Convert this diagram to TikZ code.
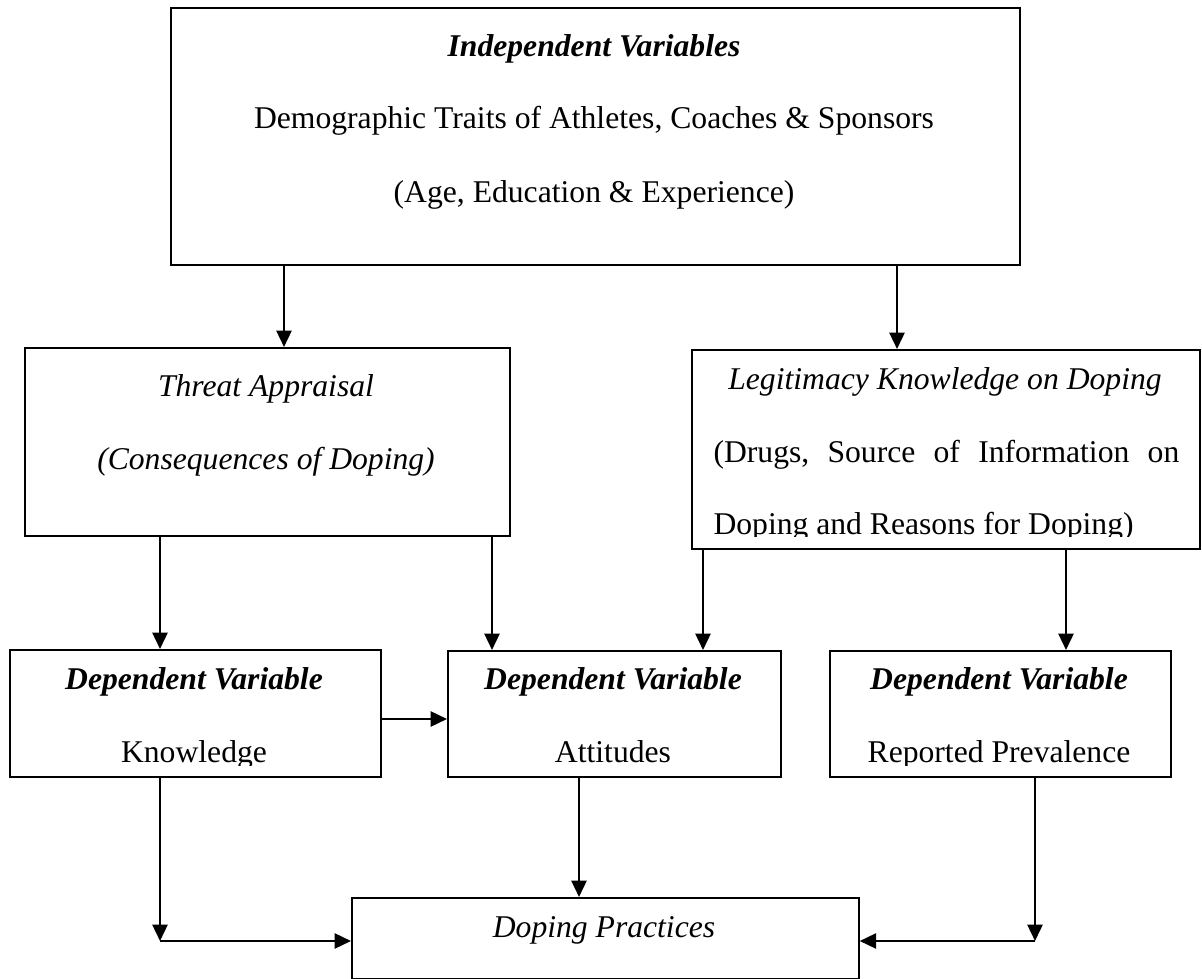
\documentclass[tikz,border=0pt]{standalone}
\usepackage{fontspec}
\setmainfont{Liberation Serif}
\usetikzlibrary{arrows.meta}

\tikzset{
  box/.style={draw, line width=0.7pt, inner sep=0pt, anchor=north west},
  txt/.style={inner sep=0pt, anchor=base},
  bi/.style={txt, font=\bfseries\itshape},
  it/.style={txt, font=\itshape},
  arr/.style={line width=0.9pt, -{Triangle[length=6.5pt,width=6pt]}}
}

\begin{document}
\fontsize{12.5}{14}\selectfont
\begin{tikzpicture}[x=0.395pt,y=-0.395pt]
    \useasboundingbox (0,0) rectangle (1202,979);
    % boxes
    \node[box, minimum width=849*0.395pt, minimum height=257*0.395pt] (indep) at (170,7) {};
    \node[box, minimum width=485*0.395pt, minimum height=188*0.395pt] (threat) at (24,347) {};
    \node[box, minimum width=508*0.395pt, minimum height=199*0.395pt] (legit) at (691,349) {};
    \node[box, minimum width=371*0.395pt, minimum height=127*0.395pt] (know) at (9,649) {};
    \node[box, minimum width=333*0.395pt, minimum height=126*0.395pt] (att) at (447,650) {};
    \node[box, minimum width=341*0.395pt, minimum height=126*0.395pt] (prev) at (829,650) {};
    \node[box, minimum width=507*0.395pt, minimum height=81*0.395pt] (practice) at (351,897) {};

    % texts
    \node[bi] at (594,57) {Independent Variables};
    \node[txt] at (594,129) {Demographic Traits of Athletes, Coaches \& Sponsors};
    \node[txt] at (594,203) {(Age, Education \& Experience)};
    \node[it] at (266,397) {Threat Appraisal};
    \node[it] at (266,470) {(Consequences of Doping)};
    \node[it] at (945,390) {Legitimacy Knowledge on Doping};
    \node[txt, anchor=base west] at (713,463) {\makebox[184pt][s]{(Drugs,\hfill Source\hfill of\hfill Information\hfill on}};
    \begin{scope}
        \clip (691,349) rectangle (1199,537);
        \node[txt, anchor=base west] at (713,535) {Doping and Reasons for Doping)};
    \end{scope}
    \node[bi] at (194,689) {Dependent Variable};
    \node[bi] at (613,689) {Dependent Variable};
    \node[bi] at (999,689) {Dependent Variable};
    \begin{scope}
        \clip (0,600) rectangle (1202,765);
        \node[txt] at (194,762) {Knowledge};
        \node[txt] at (613,762) {Attitudes};
        \node[txt] at (999,762) {Reported Prevalence};
    \end{scope}
    \node[it] at (604,937) {Doping Practices};

    % arrows
    \draw[arr] (indep.south -| 284,0) -- (threat.north -| 284,0);
    \draw[arr] (indep.south -| 897,0) -- (legit.north -| 897,0);
    \draw[arr] (threat.south -| 160,0) -- (know.north -| 160,0);
    \draw[arr] (threat.south -| 492,0) -- (att.north -| 492,0);
    \draw[arr] (legit.south -| 703,0) -- (att.north -| 703,0);
    \draw[arr] (legit.south -| 1066,0) -- (prev.north -| 1066,0);
    \draw[arr] (know.east |- 0,719) -- (att.west |- 0,719);
    \draw[arr] (att.south -| 579,0) -- (practice.north -| 579,0);
    \coordinate (kturn) at (160,941);
    \coordinate (pturn) at (1035,941);
    \draw[arr] (know.south -| kturn) -- (kturn);
    \draw[arr] (kturn) -- (practice.west |- kturn);
    \draw[arr] (prev.south -| pturn) -- (pturn);
    \draw[arr] (pturn) -- (practice.east |- pturn);
\end{tikzpicture}
\end{document}
